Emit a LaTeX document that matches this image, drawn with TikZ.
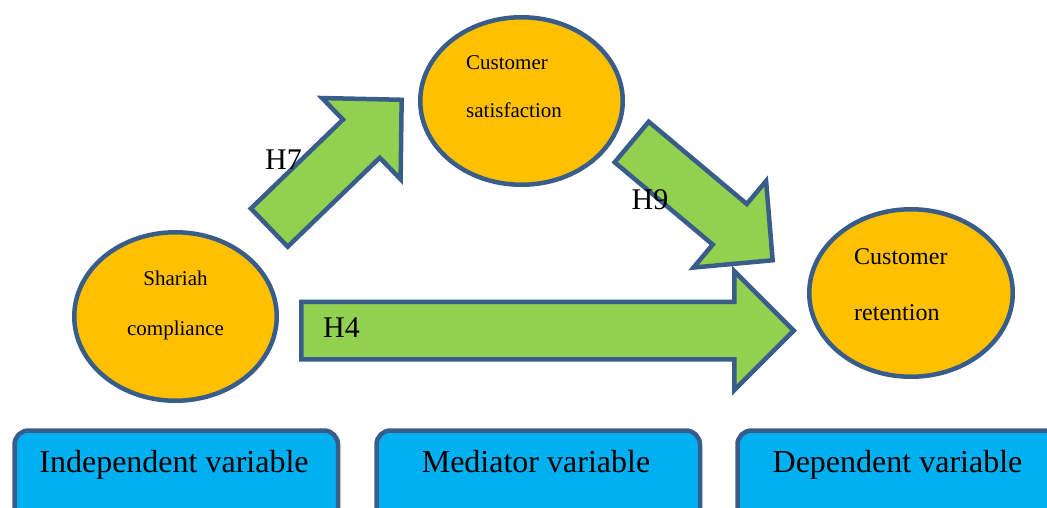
\documentclass[tikz,border=0pt]{standalone}
\usepackage{fontspec}
\setmainfont{Liberation Serif}
\usetikzlibrary{shapes.geometric}
\definecolor{edgeblue}{HTML}{385D8A}
\definecolor{ovalfill}{HTML}{FFC000}
\definecolor{arrowfill}{HTML}{92D050}
\definecolor{boxfill}{HTML}{00B0F0}
\tikzset{
  construct/.style={ellipse, draw=edgeblue, fill=ovalfill, line width=4.5pt, inner sep=0pt},
  ovaltext/.style={font=\fontsize{21}{25}\selectfont, inner sep=0pt},
  bigovaltext/.style={font=\fontsize{24}{29}\selectfont, inner sep=0pt},
  blockarrow/.style={draw=edgeblue, fill=arrowfill, line width=4.5pt, line join=miter},
  hyplabel/.style={font=\fontsize{30}{36}\selectfont, inner sep=0pt, anchor=base west},
  rolebox/.style={draw=edgeblue, fill=boxfill, line width=4.5pt, rounded corners=14pt,
    minimum width=323.5pt, minimum height=110pt, anchor=north west, inner sep=0pt},
  roletext/.style={font=\fontsize{32}{38}\selectfont, inner sep=0pt, anchor=base},
}
% block arrow: name, tail x, tail y, angle, length, shaft width, head width, head length
\newcommand{\hyparrow}[8]{%
  \begin{scope}[shift={(#2,#3)}, rotate=#4]
    \coordinate (#1) at (0,0);
    \draw[blockarrow] (0,{#6/2}) -- ({#5-#8},{#6/2}) -- ({#5-#8},{#7/2}) -- (#5,0)
      -- ({#5-#8},{-#7/2}) -- ({#5-#8},{-#6/2}) -- (0,{-#6/2}) -- cycle;
  \end{scope}}
\begin{document}
\begin{tikzpicture}[x=1pt, y=-1pt]
  \useasboundingbox (0,0) rectangle (1047,508);
  \clip (0,0) rectangle (1047,508);

  % constructs
  \node[construct, minimum width=202.5pt, minimum height=168.5pt] (sc) at (175.5,316.5) {};
  \node[construct, minimum width=202.5pt, minimum height=167.5pt] (cs) at (521.5,101) {};
  \node[construct, minimum width=203.5pt, minimum height=167.5pt] (cr) at (911,293) {};

  \node[ovaltext, anchor=base] (sc1) at (175.5,285) {Shariah};
  \node[ovaltext, anchor=base] (sc2) at (175.5,335) {compliance};
  \node[ovaltext, anchor=base west] (cs1) at (466,70) {Customer};
  \node[ovaltext, anchor=base west] (cs2) at (466,118) {satisfaction};
  \node[bigovaltext, anchor=base west] (cr1) at (854,264) {Customer};
  \node[bigovaltext, anchor=base west] (cr2) at (854,320) {retention};

  % hypothesised paths
  \hyparrow{h7}{269.3}{227.6}{44}{184}{53}{113}{56}
  \hyparrow{h9}{631.7}{142}{-40}{184}{53}{113}{56}
  \hyparrow{h4}{301.25}{330.6}{0}{492.5}{57.5}{119}{59.5}

  \node[hyplabel] (l7) at (265,170) {H7};
  \node[hyplabel] (l9) at (631.5,209) {H9};
  \node[hyplabel] (l4) at (323,337.5) {H4};

  % variable roles
  \node[rolebox] (bi) at (12.25,428.25) {};
  \node[rolebox] (bm) at (374.25,428.25) {};
  \node[rolebox] (bd) at (735.25,428.25) {};
  \node[roletext] (ti) at (174,472) {Independent variable};
  \node[roletext] (tm) at (536,472) {Mediator variable};
  \node[roletext] (td) at (897.5,472) {Dependent variable};
\end{tikzpicture}
\end{document}
